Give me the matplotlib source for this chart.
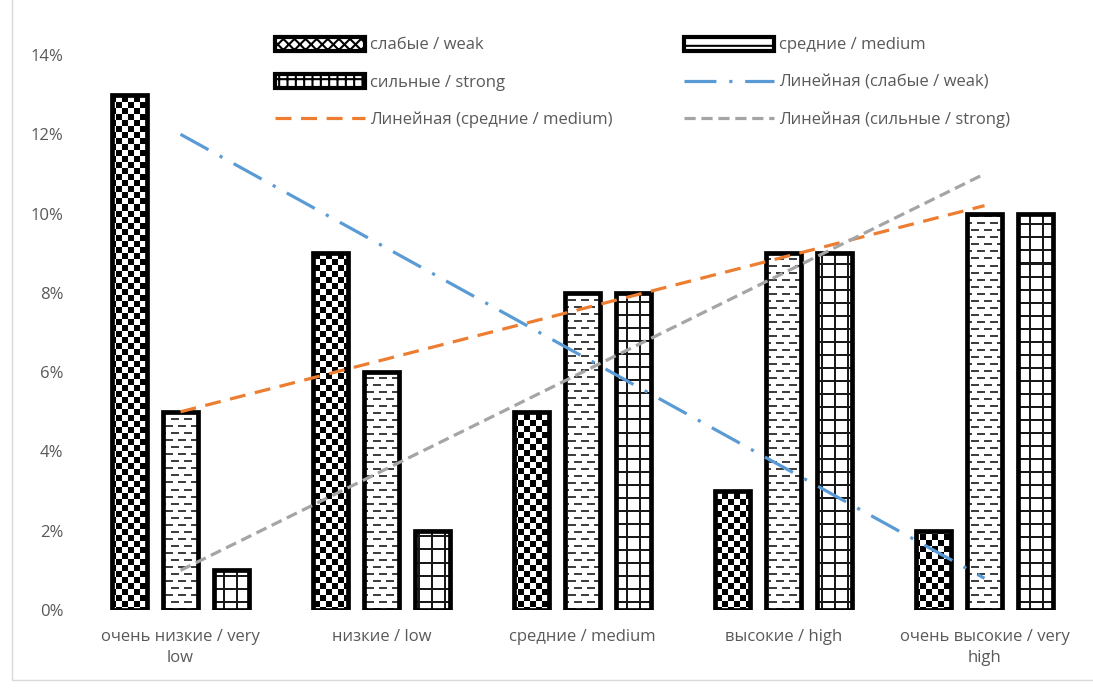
import numpy as np
import matplotlib.pyplot as plt
from matplotlib.patches import Rectangle

categories = ["очень низкие / very\nlow", "низкие / low", "средние / medium",
              "высокие / high", "очень высокие / very\nhigh"]
weak = [13, 9, 5, 3, 2]
medium = [5, 6, 8, 9, 10]
strong = [1, 2, 8, 9, 10]
y_ticks = [0, 2, 4, 6, 8, 10, 12, 14]

series_names = ["слабые / weak", "средние / medium", "сильные / strong"]
trend_names = ["Линейная (слабые / weak)", "Линейная (средние / medium)",
               "Линейная (сильные / strong)"]

plt.rcParams['font.family'] = ['Open Sans', 'DejaVu Sans']
text_color = "#595959"


def checker_fill(h, w, cell=6):
    r, c = np.indices((h, w))
    img = np.ones((h, w, 3))
    img[((r // cell + c // cell) % 2) == 0] = 0.0
    return img


def dash_fill(h, w):
    r, c = np.indices((h, w))
    rows = (r % 7) < 2
    shift = ((r // 7) % 2) * 6
    on = rows & (((c + shift) % 13) < 8)
    img = np.ones((h, w, 3))
    img[on] = 0.25
    return img


def grid_fill(h, w, step=13):
    r, c = np.indices((h, w))
    on = ((r % step) < 2) | ((c % step) < 2)
    img = np.ones((h, w, 3))
    img[on] = 0.1
    return img


W, H = 1093, 690
fig = plt.figure(figsize=(W / 100, H / 100), dpi=100)
ax = fig.add_axes([80 / W, 80 / H, 1005 / W, 555 / H])
x_lim = (-0.5, 4.5)
y_lim = (0, 14)

ax_w, ax_h = 1005, 555
fills = [checker_fill(ax_h, ax_w), dash_fill(ax_h, ax_w), grid_fill(ax_h, ax_w)]

x = np.arange(len(categories))
offset = 0.254
width = 0.172
for k, vals in enumerate([weak, medium, strong]):
    bars = ax.bar(x + (k - 1) * offset, vals, width, facecolor="none",
                  edgecolor="black", linewidth=3.4, zorder=3)
    for bar in bars:
        im = ax.imshow(fills[k], extent=[*x_lim, *y_lim], aspect="auto",
                       interpolation="nearest", zorder=2)
        im.set_clip_path(bar)

# linear trend lines over the category positions
trend_styles = [
    dict(color="#5B9BD5", dashes=(10, 4, 1, 4)),
    dict(color="#ED7D31", dashes=(5, 3)),
    dict(color="#A5A5A5", dashes=(3.5, 1.8)),
]
trend_lines = []
for vals, st in zip([weak, medium, strong], trend_styles):
    slope, icpt = np.polyfit(x, vals, 1)
    xs = np.array([x[0], x[-1]])
    ln, = ax.plot(xs, slope * xs + icpt, linewidth=2.3, zorder=4, **st)
    trend_lines.append(ln)

ax.set_xlim(*x_lim)
ax.set_ylim(*y_lim)
ax.set_xticks(x)
ax.set_xticklabels(categories, fontsize=12, color=text_color, linespacing=1.4)
ax.set_yticks(y_ticks)
ax.set_yticklabels([f"{t}%" for t in y_ticks], fontsize=12, color=text_color)
ax.tick_params(length=0, pad=12)
ax.tick_params(axis="x", pad=14)
for s in ax.spines.values():
    s.set_visible(False)

plt.rcParams['hatch.linewidth'] = 1.5
proxies = [
    Rectangle((0, 0), 1, 1, facecolor="white", edgecolor="black", lw=3, hatch="xxx"),
    Rectangle((0, 0), 1, 1, facecolor="white", edgecolor="black", lw=3, hatch="--"),
    Rectangle((0, 0), 1, 1, facecolor="white", edgecolor="black", lw=3, hatch="++"),
]
handles = [proxies[0], proxies[2], trend_lines[1], proxies[1], trend_lines[0], trend_lines[2]]
labels = [series_names[0], series_names[2], trend_names[1],
          series_names[1], trend_names[0], trend_names[2]]
leg = ax.legend(handles, labels, loc="upper left", bbox_to_anchor=(268 / W, 1 - 30 / H),
                bbox_transform=fig.transFigure, ncol=2, frameon=False, fontsize=12,
                handlelength=5.4, handleheight=0.9, handletextpad=0.3,
                columnspacing=4.3, labelspacing=1.25, borderaxespad=0)
for t in leg.get_texts():
    t.set_color(text_color)

fig.patches.append(Rectangle((12, 10), W, H, transform=None, fill=False,
                             edgecolor="#d9d9d9", linewidth=1))

fig.savefig("out.png", dpi=100)
